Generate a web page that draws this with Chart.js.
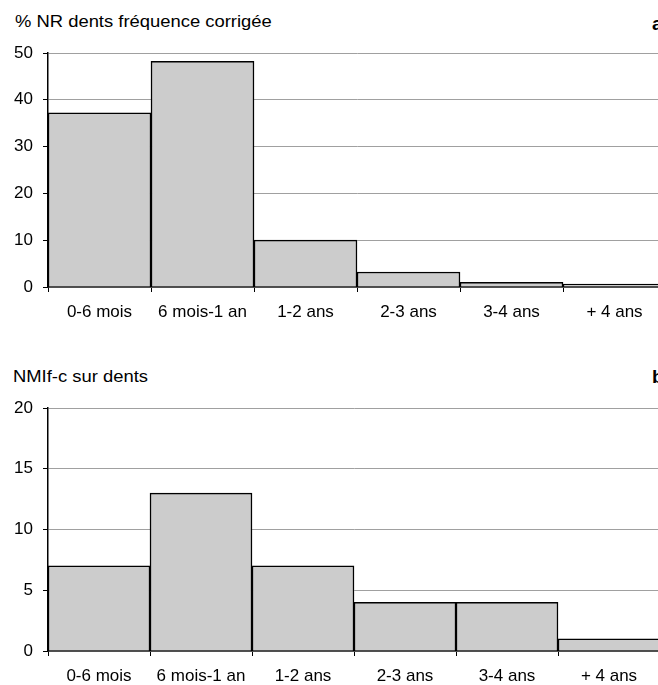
<!DOCTYPE html>
<html>
<head>
<meta charset="utf-8">
<script src="https://cdn.jsdelivr.net/npm/chart.js@4"></script>
<style>
  html,body{margin:0;padding:0;background:#fff;}
  #page{position:relative;width:658px;height:685px;overflow:hidden;font-family:"Liberation Sans",Arial,sans-serif;}
  .titre{position:absolute;font-size:16px;color:#000;white-space:nowrap;transform:scaleX(1.15);transform-origin:left top;}
  .lettre{position:absolute;font-size:19px;font-weight:bold;color:#000;}
  .boite{position:absolute;left:0;}
</style>
</head>
<body>
<div id="page">
  <div class="titre" style="left:15px;top:13px;">% NR dents fréquence corrigée</div>
  <div class="lettre" style="left:652px;top:13px;">a</div>
  <div class="boite" style="top:0;width:666px;height:327px;"><canvas id="grapheA"></canvas></div>

  <div class="titre" style="left:13px;top:368px;">NMIf-c sur dents</div>
  <div class="lettre" style="left:652px;top:366px;">b</div>
  <div class="boite" style="top:355px;width:660px;height:330px;"><canvas id="grapheB"></canvas></div>
</div>

<script>
// les classes d'age (pareil pour les deux graphes)
const categories = ['0-6 mois', '6 mois-1 an', '1-2 ans', '2-3 ans', '3-4 ans', '+ 4 ans'];
// graphe a : % NR dents frequence corrigee
const valeursNR = [37.2, 48.2, 10, 3.2, 1, 0.6];
const ticksA = {min: 0, max: 50, pas: 10};
// graphe b : NMIf-c sur dents
const valeursNMI = [7, 13, 7, 4, 4, 1];
const ticksB = {min: 0, max: 20, pas: 5};

const police = {family: '"Liberation Sans", Arial, sans-serif', size: 17};

function faireGraphe(canvas, valeurs, t, hauteurX){
  return new Chart(canvas, {
    type: 'bar',
    data: {
      labels: categories,
      datasets: [{
        data: valeurs,
        backgroundColor: '#cccccc',
        borderColor: '#000',
        borderWidth: 1.5,
        barPercentage: 1,
        categoryPercentage: 1
      }]
    },
    options: {
      responsive: true,
      maintainAspectRatio: false,
      animation: false,
      layout: {padding: {top: 53, left: 0, right: 0, bottom: 0}},
      plugins: {legend: {display: false}, tooltip: {enabled: false}},
      scales: {
        x: {
          offset: true,
          grid: {display: true, offset: true, drawOnChartArea: false, drawTicks: true, tickLength: 5, tickColor: '#000'},
          border: {display: true, color: '#000', width: 1.5},
          ticks: {color: '#000', font: police, padding: 10, maxRotation: 0, autoSkip: false},
          afterFit: (s) => { s.height = hauteurX; }
        },
        y: {
          min: t.min,
          max: t.max,
          grid: {color: '#a0a0a0', lineWidth: 1, drawTicks: true, tickLength: 5, tickColor: '#000'},
          border: {display: true, color: '#000', width: 1.5},
          ticks: {stepSize: t.pas, color: '#000', font: police, padding: 10},
          afterFit: (s) => { s.width = 48; }
        }
      }
    }
  });
}

faireGraphe(document.getElementById('grapheA'), valeursNR, ticksA, 40);
faireGraphe(document.getElementById('grapheB'), valeursNMI, ticksB, 34);
</script>
</body>
</html>
